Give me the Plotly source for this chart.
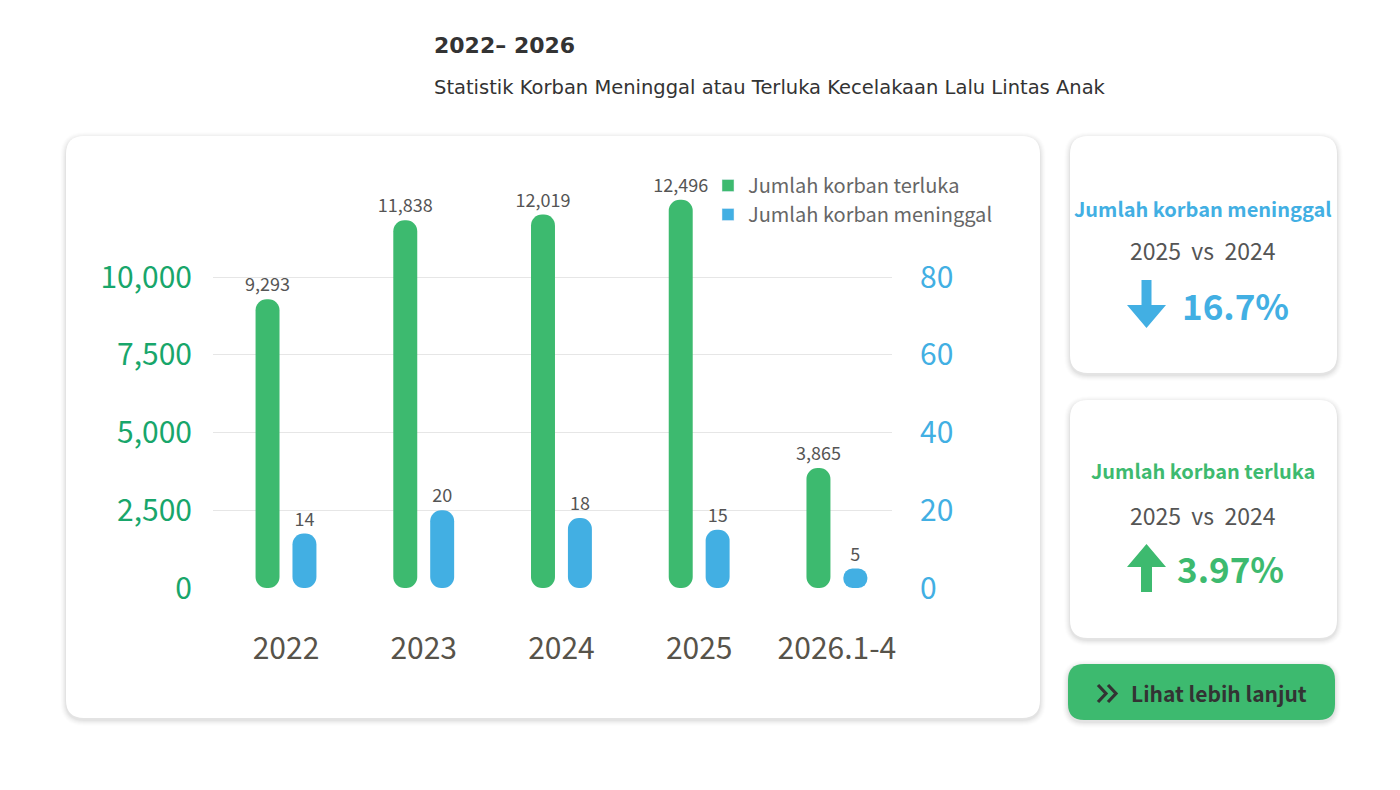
import plotly.graph_objects as go

# ---------------- data ----------------
periods = ["2022", "2023", "2024", "2025", "2026.1-4"]
injured = [9293, 11838, 12019, 12496, 3865]      # Jumlah korban terluka
deaths = [14, 20, 18, 15, 5]                      # Jumlah korban meninggal
left_ticks = [0, 2500, 5000, 7500, 10000]
right_ticks = [0, 20, 40, 60, 80]
death_change = "16.7%"
injured_change = "3.97%"

W, H = 1400, 790
GREEN = "#3dba6f"
BLUE = "#42afe3"
FONT = "Noto Sans CJK JP"

def px(x):
    return x / W

def py(y):
    return 1 - y / H

def rr_path(x0, y0, x1, y1, r):
    pts = [
        ("M", (x0 + r, y0)), ("L", (x1 - r, y0)), ("Q", (x1, y0), (x1, y0 + r)),
        ("L", (x1, y1 - r)), ("Q", (x1, y1), (x1 - r, y1)), ("L", (x0 + r, y1)),
        ("Q", (x0, y1), (x0, y1 - r)), ("L", (x0, y0 + r)), ("Q", (x0, y0), (x0 + r, y0)),
    ]
    s = ""
    for p in pts:
        s += p[0] + " " + " ".join(f"{px(a):.5f},{py(b):.5f}" for a, b in p[1:]) + " "
    return s + "Z"

def poly_path(points):
    return "M " + " L ".join(f"{px(a):.5f},{py(b):.5f}" for a, b in points) + " Z"

shapes = []

def card(x0, y0, x1, y1, r, fill="white"):
    for i, op in enumerate([0.03, 0.025, 0.02, 0.015, 0.012, 0.008]):
        g = i + 1
        shapes.append(dict(type="path", xref="paper", yref="paper", layer="below",
                           path=rr_path(x0 - g, y0 - g + 2, x1 + g, y1 + g + 2, r + g),
                           fillcolor=f"rgba(0,0,0,{op})", line=dict(width=0)))
    shapes.append(dict(type="path", xref="paper", yref="paper", layer="below",
                       path=rr_path(x0, y0, x1, y1, r), fillcolor=fill, line=dict(width=0)))

card(66, 136, 1040, 718, 18)
card(1070, 136, 1337, 373, 18)
card(1070, 400, 1337, 638, 18)
card(1068, 664, 1335, 720, 16, fill=GREEN)

# arrows
shapes.append(dict(type="path", xref="paper", yref="paper", layer="above",
                   path=poly_path([(1141.5, 280), (1151.5, 280), (1151.5, 305), (1166, 305),
                                   (1146.5, 328), (1127, 305), (1141.5, 305)]),
                   fillcolor=BLUE, line=dict(width=0)))
shapes.append(dict(type="path", xref="paper", yref="paper", layer="above",
                   path=poly_path([(1141, 592), (1152, 592), (1152, 567), (1166, 567),
                                   (1146.5, 544), (1127, 567), (1141, 567)]),
                   fillcolor=GREEN, line=dict(width=0)))
# chevrons on button
for dx in (0, 10):
    shapes.append(dict(type="path", xref="paper", yref="paper", layer="above",
                       path=f"M {px(1098+dx):.5f},{py(685):.5f} L {px(1106+dx):.5f},{py(693.5):.5f} L {px(1098+dx):.5f},{py(702):.5f}",
                       line=dict(color="#333333", width=3.2)))

# ---------------- bars (pill shaped) ----------------
BW = 0.174
G_OFF = -0.221
B_OFF = 0.047

fig = go.Figure()
fig.add_trace(go.Bar(x=periods, y=injured, base=[0] * len(injured), width=BW, offset=G_OFF,
                     marker=dict(color=GREEN, cornerradius=12, line=dict(width=0)),
                     name="Jumlah korban terluka", showlegend=False,
                     text=[f"{v:,}" for v in injured],
                     textposition="outside", constraintext="none",
                     textfont=dict(family=FONT, size=18, color="#555555"),
                     cliponaxis=False, hoverinfo="skip", yaxis="y"))
fig.add_trace(go.Bar(x=periods, y=deaths, base=[0] * len(deaths), width=BW, offset=B_OFF,
                     marker=dict(color=BLUE, cornerradius=12, line=dict(width=0)),
                     name="Jumlah korban meninggal", showlegend=False,
                     text=[f"{v:,}" for v in deaths],
                     textposition="outside", constraintext="none",
                     textfont=dict(family=FONT, size=18, color="#555555"),
                     cliponaxis=False, hoverinfo="skip", yaxis="y2"))
# legend entries (square symbols, no data drawn)
fig.add_trace(go.Bar(x=[periods[0]], y=[None], name="Jumlah korban terluka",
                     marker=dict(color=GREEN), hoverinfo="skip", yaxis="y"))
fig.add_trace(go.Bar(x=[periods[0]], y=[None], name="Jumlah korban meninggal",
                     marker=dict(color=BLUE), hoverinfo="skip", yaxis="y2"))

LEFT_MAX = 14000
fig.update_layout(
    width=W, height=H,
    margin=dict(l=0, r=0, t=0, b=0, autoexpand=False),
    paper_bgcolor="white", plot_bgcolor="rgba(0,0,0,0)",
    barmode="overlay",
    font=dict(family=FONT),
    shapes=shapes,
    xaxis=dict(domain=[px(213), px(892)], range=[-0.53, 4.40], type="category",
               showgrid=False, showline=False, zeroline=False, ticks="", automargin=False,
               tickfont=dict(family=FONT, size=30, color="#57534a"), ticklabelstandoff=40),
    yaxis=dict(domain=[py(588), py(153)], range=[0, LEFT_MAX], tickvals=left_ticks,
               tickformat=",d", showgrid=True, gridcolor="#e6e6e6", gridwidth=1,
               zeroline=False, showline=False, ticks="", automargin=False,
               tickfont=dict(family=FONT, size=30, color="#18a66b"), ticklabelstandoff=20),
    yaxis2=dict(overlaying="y", side="right", range=[0, LEFT_MAX / 125], tickvals=right_ticks,
                showgrid=False, zeroline=False, showline=False, ticks="", automargin=False,
                tickfont=dict(family=FONT, size=30, color=BLUE), ticklabelstandoff=27),
    legend=dict(x=px(708), y=py(166), xanchor="left", yanchor="top", traceorder="normal",
                bgcolor="rgba(0,0,0,0)", font=dict(family=FONT, size=20, color="#666666"),
                itemwidth=30, tracegroupgap=2),
    showlegend=True,
)

ann = []
def text(x, y, s, size, color, bold=False, family=FONT, xanchor="center"):
    ann.append(dict(x=px(x), y=py(y), xref="paper", yref="paper", text=s, showarrow=False,
                    xanchor=xanchor, yanchor="middle",
                    font=dict(family=family, size=size, color=color, weight=700 if bold else 400)))

text(432, 46, "2022– 2026", 22, "#333333", bold=True, family="DejaVu Sans", xanchor="left")
text(432, 87, "Statistik Korban Meninggal atau Terluka Kecelakaan Lalu Lintas Anak", 19.5,
     "#333333", family="DejaVu Sans", xanchor="left")

text(1203, 208, "Jumlah korban meninggal", 20, BLUE, bold=True)
text(1203, 250, "2025  vs  2024", 23, "#555555")
text(1235, 304, death_change, 35, BLUE, bold=True)

text(1203, 471, "Jumlah korban terluka", 20, GREEN, bold=True)
text(1203, 515, "2025  vs  2024", 23, "#555555")
text(1230, 567, injured_change, 35, GREEN, bold=True)

text(1219, 693, "Lihat lebih lanjut", 21, "#333333", bold=True)

fig.update_layout(annotations=ann)
fig.write_html("out.html")
